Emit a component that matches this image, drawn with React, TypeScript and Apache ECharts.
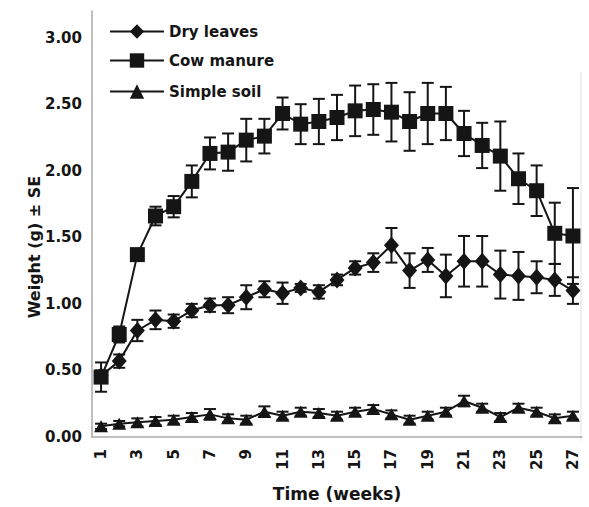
import React, { useEffect, useRef } from "react";
import * as echarts from "echarts";

const weeks = ["1","2","3","4","5","6","7","8","9","10","11","12","13","14","15","16","17","18","19","20","21","22","23","24","25","26","27"];

const dryMean = [0.46,0.57,0.80,0.88,0.87,0.95,0.99,0.99,1.05,1.11,1.08,1.12,1.09,1.18,1.27,1.31,1.44,1.25,1.33,1.21,1.32,1.32,1.22,1.21,1.20,1.18,1.10];
const drySE = [0.04,0.05,0.08,0.07,0.05,0.05,0.05,0.06,0.09,0.06,0.08,0.03,0.05,0.04,0.05,0.07,0.13,0.13,0.09,0.16,0.19,0.19,0.18,0.18,0.12,0.12,0.10];

const cowMean = [0.45,0.77,1.37,1.66,1.73,1.92,2.13,2.14,2.23,2.26,2.43,2.35,2.37,2.40,2.45,2.46,2.44,2.37,2.43,2.43,2.28,2.19,2.11,1.94,1.85,1.53,1.51];
const cowSE = [0.11,0.06,0.03,0.07,0.08,0.12,0.12,0.14,0.16,0.13,0.12,0.15,0.17,0.17,0.19,0.19,0.22,0.22,0.23,0.20,0.17,0.17,0.26,0.19,0.19,0.23,0.36];

const soilMean = [0.08,0.10,0.11,0.12,0.13,0.15,0.17,0.14,0.13,0.19,0.16,0.19,0.18,0.16,0.19,0.21,0.17,0.13,0.16,0.19,0.27,0.22,0.15,0.22,0.19,0.14,0.16];
const soilSE = [0.02,0.02,0.03,0.03,0.03,0.03,0.04,0.03,0.03,0.04,0.03,0.03,0.03,0.03,0.03,0.03,0.03,0.03,0.03,0.03,0.04,0.03,0.03,0.03,0.03,0.03,0.03];

const yTicks = ["0.00","0.50","1.00","1.50","2.00","2.50","3.00"];

const FONT = "DejaVu Sans";
const INK = "#151515";

function errData(mean: number[], se: number[]) {
  return mean.map((m, i) => [i, m - se[i], m + se[i]]);
}

function errorSeries(name: string, mean: number[], se: number[]) {
  return {
    type: "custom",
    name: name + " SE",
    z: 1,
    silent: true,
    data: errData(mean, se),
    encode: { x: 0, y: [1, 2] },
    renderItem: (params: any, api: any) => {
      const x = api.value(0);
      const lo = api.coord([x, api.value(1)]);
      const hi = api.coord([x, api.value(2)]);
      const half = 6;
      const style = { stroke: INK, lineWidth: 2 };
      return {
        type: "group",
        children: [
          { type: "line", shape: { x1: lo[0], y1: lo[1], x2: hi[0], y2: hi[1] }, style },
          { type: "line", shape: { x1: lo[0] - half, y1: lo[1], x2: lo[0] + half, y2: lo[1] }, style },
          { type: "line", shape: { x1: hi[0] - half, y1: hi[1], x2: hi[0] + half, y2: hi[1] }, style },
        ],
      };
    },
  };
}

function lineSeries(name: string, data: number[], symbol: string, size: any) {
  return {
    type: "line",
    name,
    data,
    symbol,
    symbolSize: size,
    showAllSymbol: true,
    z: 3,
    lineStyle: { color: INK, width: 2 },
    itemStyle: { color: INK, borderWidth: 0 },
  };
}

export default function App() {
  const ref = useRef<HTMLDivElement>(null);
  useEffect(() => {
    if (!ref.current) return;
    const chart = echarts.init(ref.current, undefined, { renderer: "svg" });
    const legendCommon = {
      orient: "horizontal",
      left: 104,
      itemWidth: 54,
      itemHeight: 18,
      itemGap: 8,
      textStyle: { fontFamily: FONT, fontWeight: "bold", fontSize: 15, color: INK },
      selectedMode: false,
    };
    chart.setOption({
      animation: false,
      backgroundColor: "#fff",
      grid: { left: 92, right: 7, top: 11, bottom: 66 },
      legend: [
        { ...legendCommon, top: 19, data: ["Dry leaves"] },
        { ...legendCommon, top: 48, data: ["Cow manure"] },
        { ...legendCommon, top: 79, data: ["Simple soil"] },
      ],
      graphic: [
        {
          type: "line",
          shape: { x1: 581, y1: 72, x2: 581, y2: 441 },
          style: { stroke: "#e2e2e2", lineWidth: 1 },
        },
      ],
      xAxis: {
        type: "category",
        data: weeks,
        boundaryGap: true,
        name: "Time (weeks)",
        nameLocation: "middle",
        nameGap: 48,
        nameTextStyle: { fontFamily: FONT, fontWeight: "bold", fontSize: 17, color: INK },
        axisLine: { lineStyle: { color: "#aaa", width: 1.5 } },
        axisTick: { show: false },
        axisLabel: {
          interval: 1,
          rotate: 90,
          margin: 12,
          fontFamily: FONT,
          fontWeight: "bold",
          fontSize: 15,
          color: INK,
        },
        splitLine: { show: false },
      },
      yAxis: {
        type: "value",
        min: 0,
        max: 3.2,
        interval: 0.5,
        name: "Weight (g) ± SE",
        nameLocation: "middle",
        nameGap: 50,
        nameMoveOverlap: false,
        nameTextStyle: {
          fontFamily: FONT,
          fontWeight: "bold",
          fontSize: 16,
          color: INK,
          padding: [0, 46, 0, 0],
        },
        axisLine: { show: true, lineStyle: { color: "#aaa", width: 1.5 } },
        axisTick: { show: false },
        splitLine: { show: false },
        axisLabel: {
          showMaxLabel: false,
          margin: 10,
          fontFamily: FONT,
          fontWeight: "bold",
          fontSize: 15,
          color: INK,
          formatter: (v: number) => yTicks[Math.round(v / 0.5)] ?? "",
        },
      },
      series: [
        errorSeries("Dry leaves", dryMean, drySE),
        errorSeries("Cow manure", cowMean, cowSE),
        errorSeries("Simple soil", soilMean, soilSE),
        lineSeries("Dry leaves", dryMean, "diamond", [15, 17]),
        lineSeries("Cow manure", cowMean, "rect", 15),
        lineSeries("Simple soil", soilMean, "triangle", [14, 12]),
      ],
    });
    return () => chart.dispose();
  }, []);
  return (
    <div
      ref={ref}
      style={{ position: "fixed", left: 0, top: 0, width: 589, height: 507 }}
    />
  );
}
